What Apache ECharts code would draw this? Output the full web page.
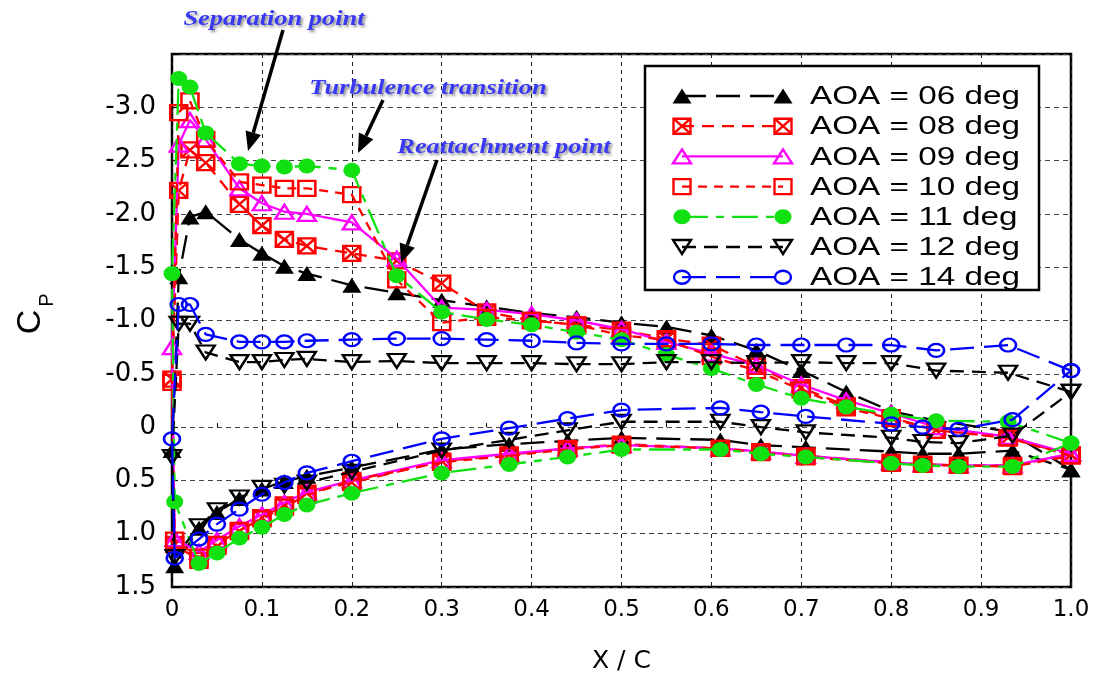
<!DOCTYPE html>
<html>
<head>
<meta charset="utf-8">
<script src="https://cdn.jsdelivr.net/npm/echarts/dist/echarts.min.js"></script>
<style>
  html, body { margin: 0; padding: 0; background: #fff; }
  #chart { width: 1096px; height: 680px; }
</style>
</head>
<body>
<div id="chart"></div>
<script>
// Chordwise pressure-tap stations (x/c), listed from the leading edge back
const xUpper = [0.0075, 0.02, 0.0375, 0.075, 0.1, 0.125, 0.15, 0.2, 0.25, 0.3, 0.35, 0.4, 0.45, 0.5, 0.55, 0.6, 0.65, 0.7, 0.75, 0.8, 0.85, 0.93];
const xLower = [0.003, 0.03, 0.05, 0.075, 0.1, 0.125, 0.15, 0.2, 0.3, 0.375, 0.44, 0.5, 0.61, 0.655, 0.705, 0.8, 0.835, 0.875, 0.935];
const xLeadingEdge = 0;
const xTrailingEdge = 1.0;

// Pressure coefficient on the upper surface, per angle of attack
const cpUpper06 = [-1.41, -1.97, -2.02, -1.76, -1.63, -1.51, -1.44, -1.33, -1.26, -1.19, -1.13, -1.07, -1.03, -0.98, -0.94, -0.86, -0.72, -0.53, -0.33, -0.15, -0.06, 0.04];
const cpUpper08 = [-2.22, -2.60, -2.48, -2.09, -1.89, -1.76, -1.70, -1.63, -1.56, -1.35, -1.08, -1.00, -0.96, -0.91, -0.83, -0.77, -0.57, -0.37, -0.20, -0.09, 0.03, 0.10];
const cpUpper09 = [-2.65, -2.88, -2.70, -2.24, -2.10, -2.02, -2.00, -1.92, -1.58, -1.12, -1.10, -1.06, -1.00, -0.92, -0.80, -0.69, -0.58, -0.40, -0.25, -0.13, 0.00, 0.09];
const cpUpper10 = [-2.95, -3.06, -2.70, -2.30, -2.27, -2.24, -2.24, -2.18, -1.38, -0.98, -1.03, -1.00, -0.96, -0.86, -0.82, -0.66, -0.53, -0.35, -0.18, -0.08, 0.03, 0.10];
const cpUpper11 = [-3.27, -3.19, -2.76, -2.47, -2.45, -2.44, -2.45, -2.41, -1.42, -1.08, -1.01, -0.96, -0.89, -0.82, -0.68, -0.55, -0.40, -0.27, -0.19, -0.12, -0.06, -0.05];
const cpUpper12 = [-0.97, -0.97, -0.70, -0.61, -0.61, -0.63, -0.64, -0.61, -0.62, -0.60, -0.60, -0.60, -0.59, -0.59, -0.61, -0.61, -0.60, -0.61, -0.60, -0.60, -0.53, -0.51];
const cpUpper14 = [-1.15, -1.15, -0.87, -0.80, -0.80, -0.80, -0.81, -0.82, -0.83, -0.83, -0.82, -0.81, -0.79, -0.78, -0.78, -0.78, -0.77, -0.77, -0.77, -0.77, -0.72, -0.77];

// Pressure coefficient on the lower surface
const cpLower06 = [1.30, 0.95, 0.80, 0.67, 0.58, 0.51, 0.46, 0.38, 0.21, 0.16, 0.13, 0.10, 0.12, 0.17, 0.19, 0.23, 0.25, 0.25, 0.22];
const cpLower08 = [1.10, 1.25, 1.12, 0.98, 0.85, 0.73, 0.62, 0.52, 0.32, 0.26, 0.20, 0.16, 0.20, 0.23, 0.27, 0.33, 0.35, 0.36, 0.36];
const cpLower09 = [1.05, 1.17, 1.06, 0.93, 0.82, 0.71, 0.61, 0.50, 0.31, 0.25, 0.20, 0.17, 0.20, 0.23, 0.27, 0.33, 0.35, 0.36, 0.36];
const cpLower10 = [1.06, 1.22, 1.10, 0.97, 0.86, 0.75, 0.64, 0.50, 0.33, 0.27, 0.21, 0.17, 0.20, 0.24, 0.28, 0.34, 0.35, 0.36, 0.37];
const cpLower11 = [0.70, 1.28, 1.18, 1.04, 0.94, 0.82, 0.73, 0.62, 0.43, 0.35, 0.28, 0.21, 0.21, 0.25, 0.28, 0.34, 0.36, 0.37, 0.37];
const cpLower12 = [1.22, 0.93, 0.78, 0.66, 0.57, 0.55, 0.52, 0.42, 0.22, 0.12, 0.03, -0.05, -0.05, 0.00, 0.05, 0.10, 0.14, 0.15, 0.08];
const cpLower14 = [1.23, 1.05, 0.91, 0.77, 0.63, 0.52, 0.43, 0.32, 0.11, 0.01, -0.08, -0.16, -0.18, -0.14, -0.10, -0.03, 0.00, 0.02, -0.07];

// Leading- and trailing-edge values, in the order 06, 08, 09, 10, 11, 12, 14 deg
const cpLeadingEdge = [0.22, -0.45, -0.75, -0.42, -1.44, 0.28, 0.11];
const cpTrailingEdge = [0.40, 0.26, 0.25, 0.27, 0.15, -0.33, -0.53];

const seriesNames = ['AOA = 06 deg', 'AOA = 08 deg', 'AOA = 09 deg', 'AOA = 10 deg', 'AOA = 11 deg', 'AOA = 12 deg', 'AOA = 14 deg'];
const upperSets = [cpUpper06, cpUpper08, cpUpper09, cpUpper10, cpUpper11, cpUpper12, cpUpper14];
const lowerSets = [cpLower06, cpLower08, cpLower09, cpLower10, cpLower11, cpLower12, cpLower14];

const xTicks = [0, 0.1, 0.2, 0.3, 0.4, 0.5, 0.6, 0.7, 0.8, 0.9, 1.0];
const yTicks = [-3.0, -2.5, -2.0, -1.5, -1.0, -0.5, 0, 0.5, 1.0, 1.5];

// Marker outlines (10x10 unit box, stretched to symbolSize)
const MARKER_PATHS = {
  tri: 'M5,0L10,10L0,10Z',
  triDown: 'M0,0L10,0L5,10Z',
  box: 'M0,0L10,0L10,10L0,10Z',
  boxX: 'M0,0L10,0L10,10L0,10Z M0,0L10,10 M10,0L0,10',
  circle: 'M0,5A5,5 0 1,0 10,5A5,5 0 1,0 0,5Z'
};

const LINE_W = 2.3;
const MARK_W = 2.4;

const styles = [
  { color: '#000000', kind: 'tri',     filled: true,  size: [19, 15], dash: [24, 10] },
  { color: '#ff0000', kind: 'boxX',    filled: false, size: [17, 15], dash: [12, 8] },
  { color: '#ff00ff', kind: 'tri',     filled: false, size: [18, 14], dash: 'solid' },
  { color: '#ff0000', kind: 'box',     filled: false, size: [17, 15], dash: [9, 7] },
  { color: '#11e011', kind: 'circle',  filled: true,  size: [17, 15], dash: [26, 8, 8, 8] },
  { color: '#000000', kind: 'triDown', filled: false, size: [18, 14], dash: [14, 8] },
  { color: '#0000ff', kind: 'circle',  filled: false, size: [16, 13], dash: [24, 10] }
];

// Closed loop: trailing edge -> upper surface -> leading edge -> lower surface -> trailing edge
function surfaceLoop(k) {
  const up = upperSets[k], lo = lowerSets[k];
  const pts = [[xTrailingEdge, cpTrailingEdge[k]]];
  for (let i = xUpper.length - 1; i >= 0; i--) pts.push([xUpper[i], up[i]]);
  pts.push([xLeadingEdge, cpLeadingEdge[k]]);
  for (let i = 0; i < xLower.length; i++) pts.push([xLower[i], lo[i]]);
  pts.push([xTrailingEdge, cpTrailingEdge[k]]);
  return pts;
}

const series = seriesNames.map((name, k) => {
  const s = styles[k];
  return {
    name,
    type: 'line',
    data: surfaceLoop(k),
    clip: false,
    symbol: 'path://' + MARKER_PATHS[s.kind],
    symbolSize: s.size,
    showAllSymbol: true,
    lineStyle: { color: s.color, width: LINE_W, type: s.dash },
    itemStyle: {
      color: s.filled ? s.color : 'rgba(255,255,255,0)',
      borderColor: s.color,
      borderWidth: s.filled ? 0 : MARK_W
    },
    emphasis: { disabled: true },
    z: 2 + k
  };
});

const fmt = v => (Math.abs(v) < 1e-9 ? '0' : v.toFixed(1));

// Legend marker built from basic shapes
function legendMarker(s, cx, cy) {
  const w = s.size[0], h = s.size[1];
  const st = { fill: s.filled ? s.color : 'rgba(255,255,255,0)', stroke: s.color, lineWidth: s.filled ? 0 : MARK_W };
  const z = 102;
  switch (s.kind) {
    case 'tri':
      return [{ type: 'polygon', shape: { points: [[cx, cy - h / 2], [cx + w / 2, cy + h / 2], [cx - w / 2, cy + h / 2]] }, style: st, z }];
    case 'triDown':
      return [{ type: 'polygon', shape: { points: [[cx - w / 2, cy - h / 2], [cx + w / 2, cy - h / 2], [cx, cy + h / 2]] }, style: st, z }];
    case 'box':
      return [{ type: 'rect', shape: { x: cx - w / 2, y: cy - h / 2, width: w, height: h }, style: st, z }];
    case 'boxX':
      return [
        { type: 'rect', shape: { x: cx - w / 2, y: cy - h / 2, width: w, height: h }, style: st, z },
        { type: 'line', shape: { x1: cx - w / 2, y1: cy - h / 2, x2: cx + w / 2, y2: cy + h / 2 }, style: { stroke: s.color, lineWidth: MARK_W }, z },
        { type: 'line', shape: { x1: cx + w / 2, y1: cy - h / 2, x2: cx - w / 2, y2: cy + h / 2 }, style: { stroke: s.color, lineWidth: MARK_W }, z }
      ];
    default:
      return [{ type: 'ellipse', shape: { cx, cy, rx: w / 2, ry: h / 2 }, style: st, z }];
  }
}

// Legend box: dashed sample line with a marker at each end
const legendGraphic = [];
legendGraphic.push({
  type: 'rect', shape: { x: 645, y: 66, width: 394, height: 224 },
  style: { fill: '#fff', stroke: '#000', lineWidth: 2.5 }, z: 100
});
seriesNames.forEach((name, k) => {
  const s = styles[k];
  const y = 96 + k * 30.2;
  legendGraphic.push({
    type: 'line', shape: { x1: 682, y1: y, x2: 783, y2: y },
    style: { stroke: s.color, lineWidth: LINE_W, lineDash: s.dash === 'solid' ? null : s.dash }, z: 101
  });
  legendGraphic.push(...legendMarker(s, 682, y), ...legendMarker(s, 783, y));
  legendGraphic.push({
    type: 'text', x: 810, y: y + 1, scaleX: 1.28,
    style: { text: name, font: '26px "Liberation Sans", Arial, sans-serif', fill: '#000', verticalAlign: 'middle', align: 'left' },
    z: 102
  });
});

// Callout labels with arrows
const noteFont = 'italic bold 22px "Liberation Serif", "Times New Roman", serif';
const notes = [
  { text: 'Separation point', cx: 274, cy: 19, from: [283, 30], to: [248, 151] },
  { text: 'Turbulence transition', cx: 428, cy: 88, from: [383, 100], to: [358, 153] },
  { text: 'Reattachment point', cx: 504, cy: 147, from: [437, 160], to: [401, 263] }
];
const noteGraphic = [];
notes.forEach(n => {
  noteGraphic.push({
    type: 'text', x: n.cx, y: n.cy, scaleX: 1.2,
    style: {
      text: n.text, font: noteFont, fill: '#3838f5', align: 'center', verticalAlign: 'middle',
      textShadowColor: 'rgba(0,0,0,0.45)', textShadowBlur: 3, textShadowOffsetX: 2, textShadowOffsetY: 2
    },
    z: 110
  });
  const [x1, y1] = n.from, [x2, y2] = n.to;
  const ang = Math.atan2(y2 - y1, x2 - x1);
  const L = 19, W = 8;
  const bx = x2 - L * Math.cos(ang), by = y2 - L * Math.sin(ang);
  noteGraphic.push({
    type: 'line', shape: { x1, y1, x2: bx, y2: by },
    style: { stroke: '#000', lineWidth: 3.5 }, z: 110
  });
  noteGraphic.push({
    type: 'polygon',
    shape: { points: [[x2, y2], [bx + W * Math.sin(ang), by - W * Math.cos(ang)], [bx - W * Math.sin(ang), by + W * Math.cos(ang)]] },
    style: { fill: '#000' }, z: 110
  });
});

// Y-axis title C_P (rotated, subscript P)
const axisTitleGraphic = [
  { type: 'text', x: 31, y: 322, rotation: Math.PI / 2,
    style: { text: 'C', font: '34px "Liberation Sans", Arial, sans-serif', fill: '#000', align: 'center', verticalAlign: 'middle' } },
  { type: 'text', x: 47, y: 300, rotation: Math.PI / 2,
    style: { text: 'P', font: '20px "Liberation Sans", Arial, sans-serif', fill: '#000', align: 'center', verticalAlign: 'middle' } }
];

const chart = echarts.init(document.getElementById('chart'), null, { renderer: 'canvas' });

const option = {
  animation: false,
  backgroundColor: '#fff',
  grid: { left: 172, right: 25, top: 54, bottom: 93, show: true, borderColor: '#000', borderWidth: 2.5 },
  xAxis: {
    type: 'value', min: xTicks[0], max: xTicks[xTicks.length - 1], interval: 0.1,
    axisLine: { show: false },
    axisTick: { show: true, inside: true, length: 6, lineStyle: { color: '#000', width: 1.2 } },
    minorTick: { show: true, splitNumber: 2, length: 4, lineStyle: { color: '#000', width: 1 } },
    splitLine: { show: true, lineStyle: { color: '#222', type: [4, 4], width: 1 } },
    axisLabel: { formatter: fmt, fontFamily: '"DejaVu Sans", sans-serif', fontSize: 23, color: '#000', margin: 12 },
    name: 'X / C', nameLocation: 'middle', nameGap: 62,
    nameTextStyle: { fontFamily: '"DejaVu Sans", sans-serif', fontSize: 25, color: '#000' }
  },
  yAxis: {
    type: 'value', inverse: true, min: -3.5, max: yTicks[yTicks.length - 1], interval: 0.5,
    axisLine: { show: false },
    axisTick: { show: true, inside: true, length: 6, lineStyle: { color: '#000', width: 1.2 } },
    splitLine: { show: true, lineStyle: { color: '#444', type: [5, 4], width: 1 } },
    axisLabel: {
      formatter: v => (yTicks.some(t => Math.abs(t - v) < 1e-9) ? fmt(v) : ''),
      fontFamily: '"DejaVu Sans", sans-serif', fontSize: 26, color: '#000', margin: 16
    }
  },
  series,
  graphic: { elements: [...noteGraphic, ...legendGraphic, ...axisTitleGraphic] }
};

chart.setOption(option);
</script>
</body>
</html>
